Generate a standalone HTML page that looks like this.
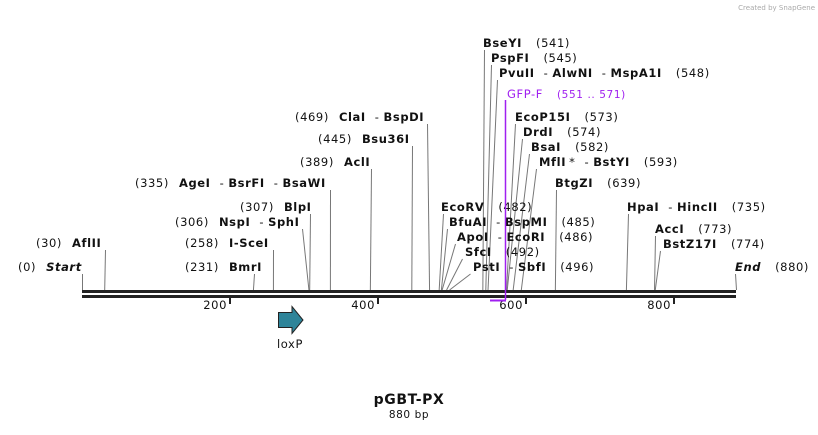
<!DOCTYPE html>
<html><head><meta charset="utf-8"><style>
html,body{margin:0;padding:0;background:#fff}
svg text{font-family:"DejaVu Sans","Liberation Sans",sans-serif;font-size:11.5px;letter-spacing:0.6px;fill:#111}
.b{font-weight:bold}
</style></head><body>
<svg id="map" width="818" height="430" viewBox="0 0 818 430" xmlns="http://www.w3.org/2000/svg">
<text x="815" y="10" text-anchor="end" style="font-size:7px;letter-spacing:0;fill:#aaa">Created by SnapGene</text>
<g id="lines"></g>
<g id="labels"></g>
<rect x="82" y="290" width="654" height="3" fill="#222"/>
<rect x="82" y="295" width="654" height="3" fill="#222"/>
<g id="ticks"></g>
<line x1="505.5" y1="100" x2="505.5" y2="300" stroke="#a020f0" stroke-width="1.5"/>
<line x1="490" y1="300.5" x2="506" y2="300.5" stroke="#a020f0" stroke-width="2"/>
<text x="507" y="98" style="fill:#a020f0">GFP-F<tspan dx="14" style="font-size:10.5px;fill:#a020f0">(551 .. 571)</tspan></text>
<path d="M278.5 312.5 H292 V306.5 L303 320 L292 333.5 V327.5 H278.5 Z" fill="#2e8499" stroke="#222" stroke-width="1"/>
<text x="290" y="348" text-anchor="middle">loxP</text>
<text x="409" y="404" text-anchor="middle" class="b" style="font-size:14px">pGBT-PX</text>
<text x="409" y="418" text-anchor="middle" style="font-size:10.5px">880 bp</text>
</svg>
<script>
const names=["Start","AflII","BmrI","I-SceI","NspI - SphI","BlpI","AgeI - BsrFI - BsaWI","AclI","Bsu36I","ClaI - BspDI","EcoRV","BfuAI - BspMI","ApoI - EcoRI","SfcI","PstI - SbfI","BseYI","PspFI","PvuII - AlwNI - MspA1I","EcoP15I","DrdI","BsaI","MflI * - BstYI","BtgZI","HpaI - HincII","AccI","BstZ17I","End"];
const sites=[0,30,231,258,306,307,335,389,445,469,482,485,486,492,496,541,545,548,573,574,582,593,639,735,773,774,880];
const sides=["L","L","L","L","L","L","L","L","L","L","R","R","R","R","R","R","R","R","R","R","R","R","R","R","R","R","R"];
const tickLabels=[200,400,600,800];
const totalBp=880;
// label layout (text x, baseline y, line anchor x)
const lx=[18,36,185,185,175,240,135,300,318,295,441,449,457,465,473,483,491,499,515,523,531,539,555,627,655,663,735];
const ly=[271,247,271,247,226,211,187,166,143,121,211,226,241,256,271,47,62,77,121,136,151,166,187,211,233,248,271];
const ax=[82,105,254,273,302,310,330,371,412,427,443,447,455,462,470,484,491,497,515,522,529,536,556,628,655,660,735];
const X=bp=>82+bp*(bp>=880?0.7432:0.74);
const NS="http://www.w3.org/2000/svg";
const gl=document.getElementById('lines'),gt=document.getElementById('labels'),gk=document.getElementById('ticks');
function mk(t,a){const e=document.createElementNS(NS,t);for(const k in a)e.setAttribute(k,a[k]);return e;}
names.forEach((n,i)=>{
  const cx=X(sites[i]);
  const ln=mk('line',{x1:ax[i]+0.5,y1:ly[i]+3,x2:cx+0.5,y2:290,stroke:'#777','stroke-width':1});
  
  
  gl.appendChild(ln);
  const t=mk('text',{x:lx[i],y:ly[i]});
  
  
  const it=(n=='Start'||n=='End')?' font-style="italic"':'';
  const parts=n.split(' - ');
  const L=sides[i]=='L';
  let html='';
  if(L) html+='<tspan>('+sites[i]+')</tspan>';
  parts.forEach((p,j)=>{
    const first=(j==0)?(L?' dx="10"':''):' dx="4"';
    if(j>0) html+='<tspan dx="9">-</tspan>';
    html+='<tspan class="b"'+it+first+'>'+p.replace(' *','</tspan><tspan dx="3">*</tspan><tspan class="b">')+'</tspan>';
  });
  if(!L) html+='<tspan dx="14">('+sites[i]+')</tspan>';
  t.innerHTML=html;
  gt.appendChild(t);
});
tickLabels.forEach(v=>{
  const x=X(v);
  const r=mk('rect',{x:x-1,y:298,width:2,height:6,fill:'#222'});
  
  
  gk.appendChild(r);
  const t=mk('text',{x:x-3,y:309,'text-anchor':'end'});
  t.textContent=v;
  
  
  gk.appendChild(t);
});
</script>
</body></html>
